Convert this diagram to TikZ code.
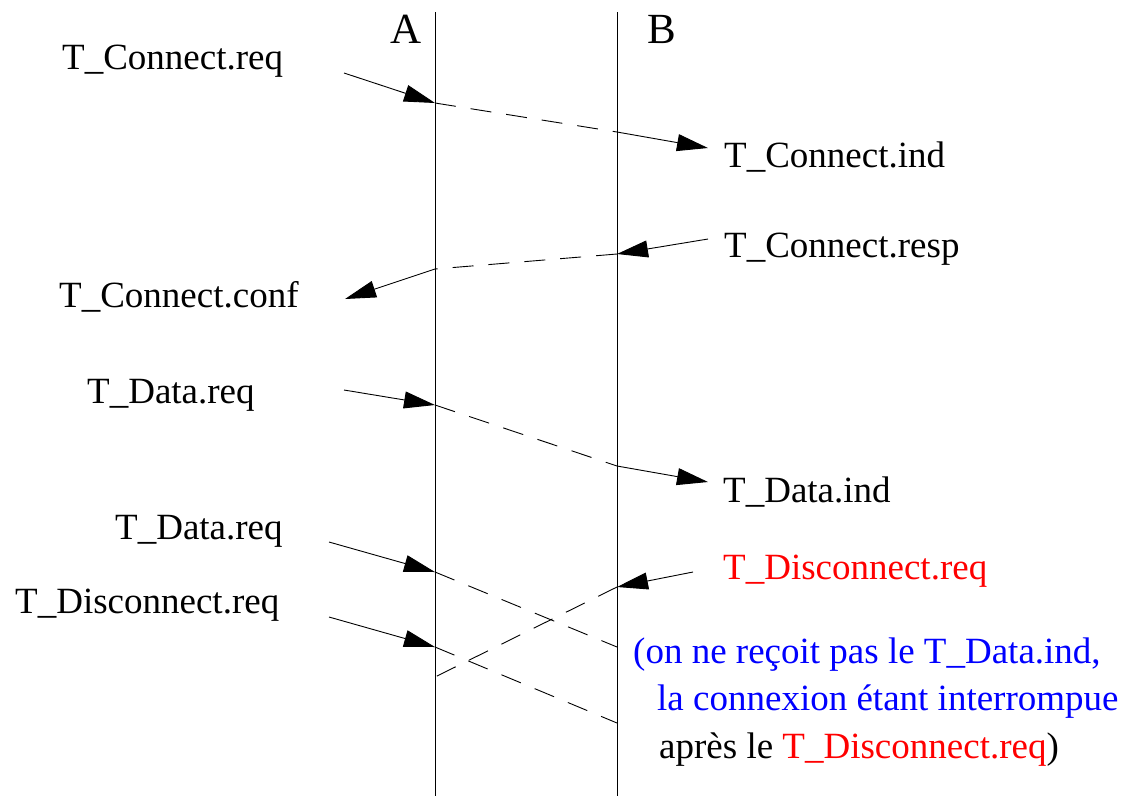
\documentclass[tikz,border=0pt]{standalone}
\usepackage{fontspec}
\setmainfont{Liberation Serif}
\usetikzlibrary{arrows.meta}
\tikzset{
  prim/.style={anchor=base west, inner sep=0pt, font=\fontsize{37}{44}\selectfont},
  site/.style={anchor=base west, inner sep=0pt, font=\fontsize{43}{50}\selectfont},
  life/.style={line width=0.9pt},
  msg/.style={line width=0.9pt, -{Triangle[length=31pt,width=17pt]}},
  wire/.style={line width=0.9pt, dash pattern=on 21pt off 15pt},
}
\begin{document}
\begin{tikzpicture}[x=1pt, y=-1pt]
    \useasboundingbox (0,0) rectangle (1126,796);
    % the two sites
    \coordinate (Atop) at (435,12);
    \coordinate (Abot) at (435,796);
    \coordinate (Btop) at (617,12);
    \coordinate (Bbot) at (617,796);
    \draw[life] (Atop) -- (Abot);
    \draw[life] (Btop) -- (Bbot);
    \node[site] (A) at (390,43) {A};
    \node[site] (B) at (647,43) {B};

    % connection request
    \node[prim] (creq) at (62,69) {T\_Connect.req};
    \node[prim] (cind) at (724,167) {T\_Connect.ind};
    \coordinate (c1) at (344,73);
    \coordinate (c2) at (435,103);
    \coordinate (c3) at (617,132);
    \coordinate (c4) at (708,148);
    \draw[msg] (c1) -- (c2);
    \draw[wire] (c2) -- (c3);
    \draw[msg] (c3) -- (c4);

    % connection response
    \node[prim] (cresp) at (724,257) {T\_Connect.resp};
    \node[prim] (cconf) at (59,307) {T\_Connect.conf};
    \coordinate (r1) at (708,239);
    \coordinate (r2) at (617,254);
    \coordinate (r3) at (435,269);
    \coordinate (r4) at (345,299);
    \draw[msg] (r1) -- (r2);
    \draw[wire] (r2) -- (r3);
    \draw[msg] (r3) -- (r4);

    % data
    \node[prim] (dreq) at (87,403) {T\_Data.req};
    \node[prim] (dind) at (723,502) {T\_Data.ind};
    \coordinate (d1) at (344,390);
    \coordinate (d2) at (435,405);
    \coordinate (d3) at (617,466);
    \coordinate (d4) at (708,482);
    \draw[msg] (d1) -- (d2);
    \draw[wire] (d2) -- (d3);
    \draw[msg] (d3) -- (d4);

    % lost data and crossed disconnects
    \node[prim] (dreqb) at (115,539) {T\_Data.req};
    \node[prim] (xreqa) at (15,613) {T\_Disconnect.req};
    \node[prim, text=red] (xreqb) at (723,579) {T\_Disconnect.req};
    \coordinate (e1) at (329,542);
    \coordinate (e2) at (435,572);
    \coordinate (e3) at (617,647);
    \draw[msg] (e1) -- (e2);
    \draw[wire] (e2) -- (e3);
    \coordinate (f1) at (329,617);
    \coordinate (f2) at (435,647);
    \coordinate (f3) at (617,723);
    \draw[msg] (f1) -- (f2);
    \draw[wire] (f2) -- (f3);
    \coordinate (g1) at (693,572);
    \coordinate (g2) at (617,587);
    \coordinate (g3) at (435,677);
    \draw[msg] (g1) -- (g2);
    \draw[wire] (g2) -- (g3);

    % remark
    \node[prim, text=blue] (note1) at (633,663) {(on ne reçoit pas le T\_Data.ind,};
    \node[prim, text=blue] (note2) at (657,710) {la connexion étant interrompue};
    \node[prim] (note3) at (659,758) {après le \textcolor{red}{T\_Disconnect.req})};
\end{tikzpicture}
\end{document}
